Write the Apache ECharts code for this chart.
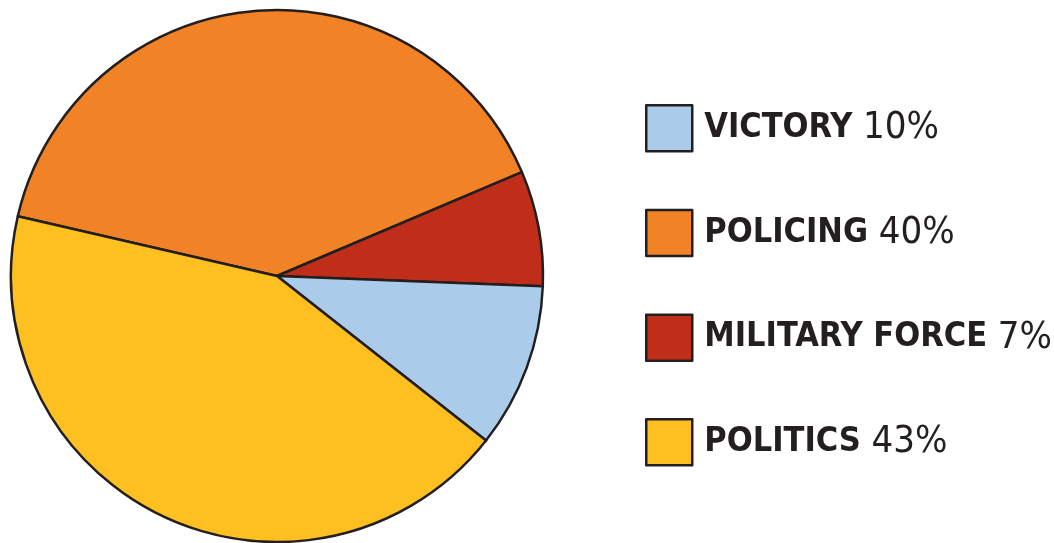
<!DOCTYPE html>
<html>
<head>
<meta charset="utf-8">
<script src="https://cdn.jsdelivr.net/npm/echarts@6/dist/echarts.min.js"></script>
<style>
html,body{margin:0;padding:0;background:#fff;}
#chart{width:1054px;height:543px;}
</style>
</head>
<body>
<div id="chart"></div>
<script>
// Slice order around the pie (clockwise from startAngle)
const sliceNames = ['POLICING', 'MILITARY FORCE', 'VICTORY', 'POLITICS'];
const sliceValues = [40, 7, 10, 43];
const sliceColors = ['#f28226', '#c02e1a', '#abcbea', '#fdc020'];
// Legend order
const legendOrder = ['VICTORY', 'POLICING', 'MILITARY FORCE', 'POLITICS'];

const valueByName = {};
sliceNames.forEach((n, i) => { valueByName[n] = sliceValues[i]; });

const FONT = '"Liberation Sans Narrow", "DejaVu Sans Condensed", sans-serif';

const chart = echarts.init(document.getElementById('chart'), null, {renderer: 'canvas'});
chart.setOption({
  animation: false,
  backgroundColor: '#ffffff',
  legend: {
    orient: 'vertical',
    left: 645,
    top: 104,
    padding: 0,
    itemWidth: 46,
    itemHeight: 46,
    itemGap: 56.2,
    icon: 'rect',
    data: legendOrder,
    selectedMode: false,
    itemStyle: { borderColor: '#231f20', borderWidth: 2.5 },
    formatter: function (name) {
      return '{b|' + name + ' }{r|' + valueByName[name] + '%}';
    },
    textStyle: {
      padding: [0, 0, 0, 7],
      rich: {
        b: {
          fontFamily: FONT,
          fontWeight: 'bold',
          fontSize: 34,
          color: '#231f20'
        },
        r: {
          fontFamily: FONT,
          fontWeight: 'normal',
          fontSize: 38,
          color: '#231f20'
        }
      }
    }
  },
  series: [{
    type: 'pie',
    center: [277, 276],
    radius: 266,
    startAngle: 167,
    clockwise: true,
    label: { show: false },
    labelLine: { show: false },
    emphasis: { disabled: true },
    itemStyle: { borderColor: '#231f20', borderWidth: 2.5 },
    data: sliceNames.map((n, i) => ({
      name: n,
      value: sliceValues[i],
      itemStyle: { color: sliceColors[i] }
    }))
  }]
});
</script>
</body>
</html>
